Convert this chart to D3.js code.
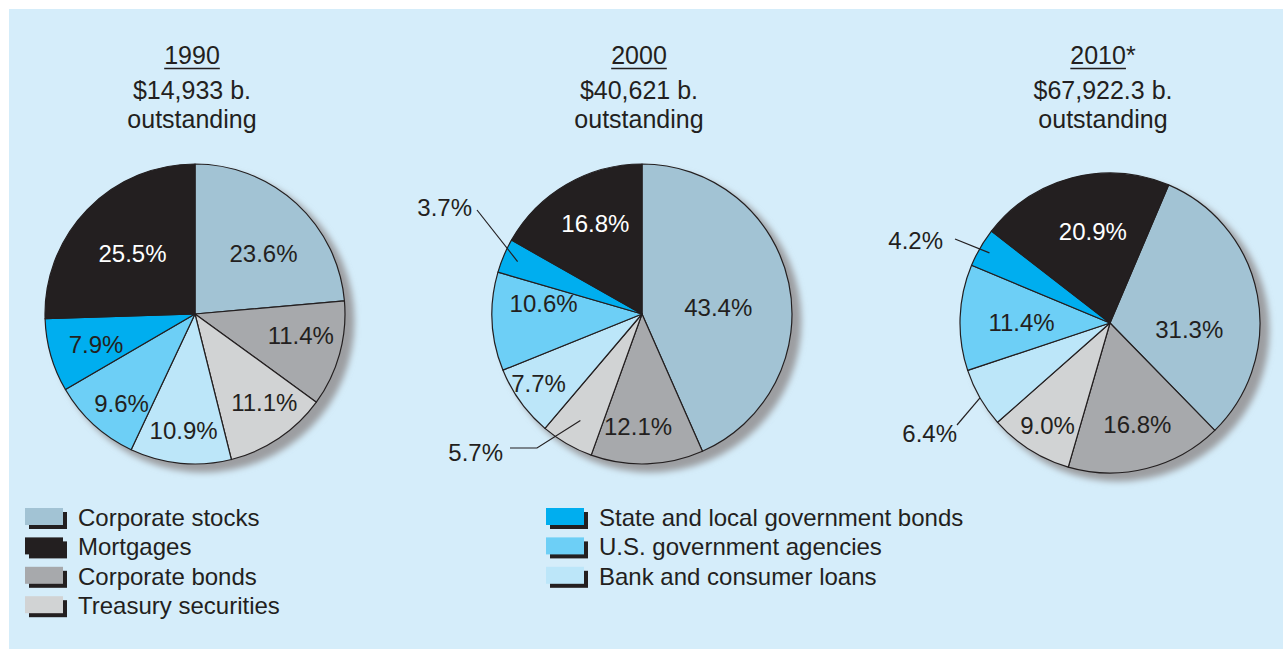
<!DOCTYPE html>
<html><head><meta charset="utf-8">
<script src="https://cdn.jsdelivr.net/npm/d3@7"></script>
<style>
html,body{margin:0;padding:0;background:#fff;}
svg{display:block;font-family:"Liberation Sans",Arial,Helvetica,sans-serif;}
</style></head>
<body>
<svg id="chart" width="1283" height="649"></svg>
<script>
// ---- data ----
const categories = ["Corporate stocks","Corporate bonds","Treasury securities","Bank and consumer loans","U.S. government agencies","State and local government bonds","Mortgages"];
const years = ["1990","2000","2010*"];
const totals = ["$14,933 b.","$40,621 b.","$67,922.3 b."];
const values1990 = [23.6, 11.4, 11.1, 10.9, 9.6, 7.9, 25.5];
const values2000 = [43.4, 12.1, 5.7, 7.7, 10.6, 3.7, 16.8];
const values2010 = [31.3, 16.8, 9.0, 6.4, 11.4, 4.2, 20.9];
const legendLeft = ["Corporate stocks","Mortgages","Corporate bonds","Treasury securities"];
const legendRight = ["State and local government bonds","U.S. government agencies","Bank and consumer loans"];

// ---- styles / layout ----
const colors = {
  "Corporate stocks":"#a2c3d4",
  "Mortgages":"#231f20",
  "Corporate bonds":"#a7a9ac",
  "Treasury securities":"#d1d3d4",
  "State and local government bonds":"#00aeef",
  "U.S. government agencies":"#6dcff6",
  "Bank and consumer loans":"#bce6f9"
};
const ink = "#231f20";
const R = 150;
const pies = [
  {vals: values1990, cx:195, cy:314, start:0, titleX:192,
   lab:[[0.61,6],[0.72,-4],[0.75,-4],[0.78,0],[0.77,-3],[0.69,-1],[0.58,0]], out:{}},
  {vals: values2000, cx:642, cy:314, start:0, titleX:639,
   lab:[[0.51,7],[0.75,4],null,[0.83,2],[0.66,9],null,[0.68,3]],
   out:{2:{tx:-139,ty:138,line:[[-132,134],[-105,134]],f:0.82},
        5:{tx:-170,ty:-107,line:[[-165,-104]],f:0.9}}},
  {vals: values2010, cx:1110, cy:323, start:23, titleX:1103,
   lab:[[0.53,15],[0.70,-1],[0.80,-1],null,[0.59,-1.5],null,[0.62,4]],
   out:{3:{tx:-153,ty:110,line:[[-153,102]],f:1.0},
        5:{tx:-167,ty:-83,line:[[-155,-84]],f:0.93}}}
];

const svg = d3.select("#chart");
svg.append("rect").attr("x",9).attr("y",9).attr("width",1274).attr("height",640).attr("fill","#d5edfa");

const defs = svg.append("defs");
defs.append("filter").attr("id","sh").attr("x","-20%").attr("y","-20%").attr("width","140%").attr("height","140%")
  .append("feGaussianBlur").attr("stdDeviation",3);

const rad = d => d*Math.PI/180;

pies.forEach((p,pi) => {
  const g = svg.append("g").attr("transform",`translate(${p.cx},${p.cy})`);
  const data = categories.map((c,i)=>({cat:c, v:p.vals[i], i}));
  const pie = d3.pie().sort(null).value(d=>d.v)
     .startAngle(rad(p.start)).endAngle(rad(p.start)+2*Math.PI);
  const arcs = pie(data);
  const arc = d3.arc().innerRadius(0).outerRadius(R);

  // shadow
  g.append("circle").attr("cx",8).attr("cy",7).attr("r",R+1.5).attr("fill","#9c9ea1").attr("filter","url(#sh)");

  g.selectAll("path.slice").data(arcs).join("path").attr("class","slice")
    .attr("d",arc).attr("fill",d=>colors[d.data.cat])
    .attr("stroke",ink).attr("stroke-width",1.2).attr("stroke-linejoin","round");

  // labels
  arcs.forEach((d,i) => {
    const L = p.lab[i];
    const txt = d3.format(".1f")(d.data.v)+"%";
    const mid = (d.startAngle+d.endAngle)/2;
    if (L) {
      const a = mid + rad(L[1]);
      const r = R*L[0];
      g.append("text").attr("x",r*Math.sin(a)).attr("y",-r*Math.cos(a)).attr("dy","0.36em")
        .attr("text-anchor","middle").attr("font-size",24)
        .attr("fill", d.data.cat==="Mortgages" ? "#ffffff" : ink).text(txt);
    } else if (p.out[i]) {
      const o = p.out[i];
      const r = R*o.f;
      const end = [r*Math.sin(mid), -r*Math.cos(mid)];
      const pts = o.line.concat([end]);
      g.append("path").attr("d", d3.line()(pts)).attr("fill","none").attr("stroke",ink).attr("stroke-width",1.2);
      g.append("text").attr("x",o.tx).attr("y",o.ty).attr("dy","0.36em")
        .attr("text-anchor","end").attr("font-size",24).attr("fill",ink).text(txt);
    }
  });

  // titles
  const t = svg.append("g").attr("fill",ink).attr("font-size",25).attr("text-anchor","middle");
  const yt = t.append("text").attr("x",p.titleX).attr("y",64).text(years[pi]);
  const w = yt.node().getComputedTextLength();
  const yearOnly = years[pi].replace("*","");
  const tmp = t.append("text").attr("x",-1000).attr("y",-1000).text(yearOnly);
  const wy = tmp.node().getComputedTextLength(); tmp.remove();
  const x0 = p.titleX - w/2;
  svg.append("line").attr("x1",x0).attr("x2",x0+wy).attr("y1",68.5).attr("y2",68.5).attr("stroke",ink).attr("stroke-width",1.6);
  t.append("text").attr("x",p.titleX).attr("y",99).text(totals[pi]);
  t.append("text").attr("x",p.titleX).attr("y",128).text("outstanding");
});

// legend
function legend(items, x, tx) {
  const g = svg.append("g");
  items.forEach((c,i) => {
    const y = 508 + i*29.4;
    g.append("rect").attr("x",x+4).attr("y",y+4).attr("width",38).attr("height",17).attr("fill",ink);
    g.append("rect").attr("x",x).attr("y",y).attr("width",38).attr("height",17).attr("fill",colors[c]);
    g.append("text").attr("x",tx).attr("y",y+18).attr("font-size",24).attr("fill",ink).text(c);
  });
}
legend(legendLeft, 25, 78);
legend(legendRight, 546, 599);
</script>
</body></html>
